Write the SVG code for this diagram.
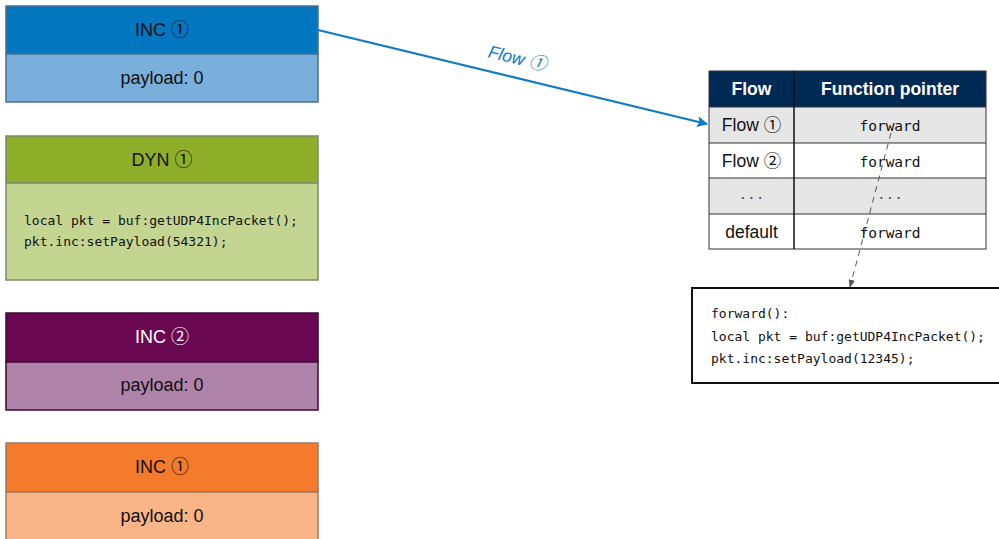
<svg xmlns="http://www.w3.org/2000/svg" width="999" height="539" viewBox="0 0 999 539">
  <defs>
    <style>
      .lbl { font-family: "Liberation Sans", Arial, sans-serif; font-size: 18px; text-anchor: middle; fill: #111; }
      .code { font-family: "DejaVu Sans Mono", "Liberation Mono", monospace; font-size: 13px; fill: #111; }
      .cell { font-family: "Liberation Sans", Arial, sans-serif; font-size: 17.5px; text-anchor: middle; fill: #111; }
      .mono { font-family: "DejaVu Sans Mono", "Liberation Mono", monospace; font-size: 14.5px; text-anchor: middle; fill: #111; }
      .hdr { font-family: "Liberation Sans", Arial, sans-serif; font-size: 17.5px; font-weight: bold; text-anchor: middle; fill: #fff; }
      .num { font-family: "Noto Sans CJK JP", "Noto Sans CJK SC", sans-serif; font-weight: 400; }
    </style>
    <marker id="arrBlue" viewBox="0 0 10 10" refX="9" refY="5" markerWidth="5" markerHeight="5" orient="auto" markerUnits="strokeWidth">
      <path d="M0,0 L10,5 L0,10 L2,5 Z" fill="#0f7bc6"/>
    </marker>
    <marker id="arrGray" viewBox="0 0 10 10" refX="9" refY="5" markerWidth="8" markerHeight="8" orient="auto" markerUnits="userSpaceOnUse">
      <path d="M0,1 L10,5 L0,9 Z" fill="#555"/>
    </marker>
  </defs>
  <rect width="999" height="539" fill="#fff"/>

  <!-- Packet INC 1 (blue) -->
  <g id="inc1-blue">
    <rect x="6" y="6" width="312" height="48" fill="#0277c0" stroke="#4a6f8f" stroke-width="1.5"/>
    <rect x="6" y="54" width="312" height="48" fill="#7aaedb" stroke="#4a6f8f" stroke-width="1.5"/>
    <text class="lbl" x="162" y="36">INC <tspan class="num">①</tspan></text>
    <text class="lbl" x="162" y="84">payload: 0</text>
  </g>

  <!-- Packet DYN 1 (green) -->
  <g id="dyn1">
    <rect x="6" y="136" width="312" height="47" fill="#8eae2a" stroke="#7c8c66" stroke-width="1.5"/>
    <rect x="6" y="183" width="312" height="97" fill="#c4d491" stroke="#7c8c66" stroke-width="1.5"/>
    <text class="lbl" x="162" y="166">DYN <tspan class="num">①</tspan></text>
    <text class="code" x="24" y="225">local pkt = buf:getUDP4IncPacket();</text>
    <text class="code" x="24" y="246">pkt.inc:setPayload(54321);</text>
  </g>

  <!-- Packet INC 2 (purple) -->
  <g id="inc2">
    <rect x="6" y="313" width="312" height="49" fill="#690851" stroke="#3d0a30" stroke-width="1.5"/>
    <rect x="6" y="362" width="312" height="48" fill="#b083ab" stroke="#3d0a30" stroke-width="1.5"/>
    <text class="lbl" x="162" y="343" style="fill:#fff">INC <tspan class="num">②</tspan></text>
    <text class="lbl" x="162" y="391">payload: 0</text>
  </g>

  <!-- Packet INC 1 (orange) -->
  <g id="inc1-orange">
    <rect x="6" y="443" width="312" height="49" fill="#f47a2c" stroke="#9c7b62" stroke-width="1.5"/>
    <rect x="6" y="492" width="312" height="60" fill="#f9b587" stroke="#9c7b62" stroke-width="1.5"/>
    <text class="lbl" x="162" y="473">INC <tspan class="num">①</tspan></text>
    <text class="lbl" x="162" y="522">payload: 0</text>
  </g>

  <!-- Dispatch table -->
  <g id="flow-table">
    <rect x="709" y="71" width="277" height="36" fill="#002a54"/>
    <rect x="709" y="107" width="277" height="36" fill="#e6e6e6"/>
    <rect x="709" y="143" width="277" height="35" fill="#fff"/>
    <rect x="709" y="178" width="277" height="36" fill="#e6e6e6"/>
    <rect x="709" y="214" width="277" height="35" fill="#fff"/>
    <g stroke="#333" stroke-width="1" fill="none">
      <rect x="709" y="71" width="277" height="178"/>
      <line x1="709" y1="107" x2="986" y2="107"/>
      <line x1="709" y1="143" x2="986" y2="143"/>
      <line x1="709" y1="178" x2="986" y2="178"/>
      <line x1="709" y1="214" x2="986" y2="214"/>
    </g>
    <line x1="794" y1="71" x2="794" y2="249" stroke="#111" stroke-width="1.5"/>
    <text class="hdr" x="751.5" y="95">Flow</text>
    <text class="hdr" x="890" y="95">Function pointer</text>
    <text class="cell" x="751.5" y="131">Flow <tspan class="num">①</tspan></text>
    <text class="mono" x="890" y="131">forward</text>
    <text class="cell" x="751.5" y="167">Flow <tspan class="num">②</tspan></text>
    <text class="mono" x="890" y="167">forward</text>
    <text class="mono" x="751.5" y="199" style="fill:#555">...</text>
    <text class="mono" x="890" y="199" style="fill:#555">...</text>
    <text class="cell" x="751.5" y="238">default</text>
    <text class="mono" x="890" y="238">forward</text>
  </g>

  <!-- Handler code -->
  <g id="forward-fn">
    <rect x="692" y="288" width="320" height="95" fill="#fff" stroke="#111" stroke-width="2"/>
    <text class="code" x="711" y="318">forward():</text>
    <text class="code" x="711" y="341">local pkt = buf:getUDP4IncPacket();</text>
    <text class="code" x="711" y="363">pkt.inc:setPayload(12345);</text>
  </g>

  <!-- Connectors -->
  <g id="connectors">
    <line x1="318" y1="30" x2="707" y2="124" stroke="#0f7bc6" stroke-width="2.2" marker-end="url(#arrBlue)"/>
    <text x="516" y="64" transform="rotate(13.6 516 64)" font-family="'Liberation Sans', Arial, sans-serif" font-size="17.5" font-style="italic" fill="#0f7bc6" text-anchor="middle">Flow <tspan class="num">①</tspan></text>
    <line x1="891" y1="133" x2="850" y2="287" stroke="#555" stroke-width="1" stroke-dasharray="6 5" marker-end="url(#arrGray)"/>
  </g>
</svg>
